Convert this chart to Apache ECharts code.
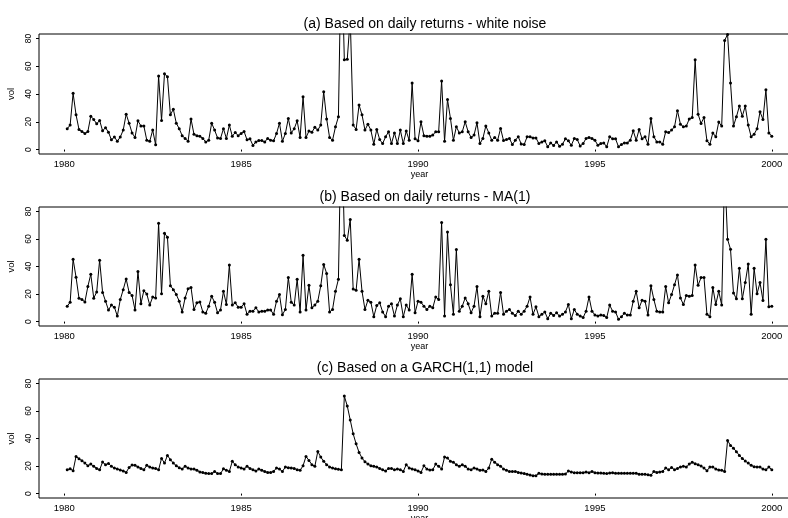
<!DOCTYPE html>
<html>
<head>
<meta charset="utf-8">
<script src="https://cdn.jsdelivr.net/npm/echarts@6/dist/echarts.min.js"></script>
<style>
  html, body { margin: 0; padding: 0; background: #fff; }
  #chart { width: 788px; height: 518px; }
</style>
</head>
<body>
<div id="chart"></div>
<script>
// monthly volatility, Jan 1980 .. Dec 1999 (240 months)
var startYear = 1980
var yearTicks = [1980, 1985, 1990, 1995, 2000]
var volTicks = [0, 20, 40, 60, 80]
var panelTitles = [
  '(a) Based on daily returns - white noise',
  '(b) Based on daily returns - MA(1)',
  '(c) Based on a GARCH(1,1) model'
]

// (a) white noise
var volA = [
  15, 17.6, 40.5, 25, 14.5, 13, 11.5, 13, 24, 21.7,
  18.5, 21, 13.5, 15.7, 12.5, 7, 9, 6, 9, 14,
  25.5, 19, 12, 8.7, 20.7, 17, 17, 6.7, 6, 14,
  3.4, 53, 21, 54.5, 52.5, 25, 29, 19, 15, 10,
  8, 6, 22, 11, 10, 9.6, 8, 5.5, 6.7, 19,
  14, 8.4, 8, 15, 8, 17.6, 9.6, 12.3, 10, 11.5,
  13, 7, 7.7, 3, 5.5, 6.5, 6.5, 5.5, 8, 6.7,
  6.3, 11.5, 19, 6, 11.5, 22.4, 12, 15, 20.7, 8.7,
  38, 8.7, 13.3, 12.5, 16, 14, 17.6, 41.7, 22, 8.7,
  6.7, 16.4, 23.6, 150, 64.6, 65, 95, 17.6, 14.5, 32,
  25, 14, 18.3, 14, 3.9, 14.5, 7.2, 4.3, 9.2, 12.8,
  4.3, 12, 4.3, 14, 4.3, 13.3, 6.7, 48, 7.7, 6.3,
  20, 10, 9.6, 9.6, 10.4, 12.8, 12.8, 49.4, 6, 36,
  22.4, 6.7, 16.4, 12, 12.8, 20, 12.8, 8.7, 10.4, 19.3,
  4.3, 8, 17, 12, 6.7, 8.7, 6.7, 15.2, 6.5, 7.2,
  8, 3.6, 6.7, 9.2, 4, 3.6, 9.2, 9.2, 8.4, 8.4,
  4.3, 5.5, 6.3, 2, 4.8, 3, 5.5, 2.4, 3.9, 7.7,
  6.3, 3.1, 8, 7.2, 2.6, 4.3, 8, 8.7, 8, 6.7,
  3.1, 4.3, 4.8, 2, 9.2, 7.7, 7.7, 2, 3.6, 4.8,
  4.8, 6.7, 13.5, 6.7, 14.5, 7.7, 9.2, 3.9, 22.4, 9.2,
  5.5, 5.5, 3.9, 12.8, 12.3, 14, 16.4, 28, 18.3, 16.4,
  16.9, 22, 23, 64.6, 25.5, 18.8, 23, 6.3, 3.9, 12,
  9.2, 19.8, 16.9, 78.6, 82.9, 48, 16.9, 23.6, 31.3, 24,
  31.3, 17.6, 9.2, 11, 15, 27.2, 21.7, 43, 12, 9.6
]

// (b) MA(1)
var volB = [
  11.2, 14, 45.3, 32.2, 17, 16, 14.3, 25.5, 34.4, 17,
  21.5, 44.6, 21.2, 14.8, 8.4, 12, 10.5, 4, 16, 23.2,
  31, 21.2, 19, 8.4, 36.3, 13, 22.4, 20, 12, 17.9,
  17.2, 71.4, 20.3, 64.2, 61.3, 26, 23.2, 19.6, 14.8, 7,
  17.2, 23.9, 24.8, 8.8, 13.6, 14.3, 7, 6, 11.2, 18.4,
  14, 6.4, 8.4, 22, 12.4, 41, 12, 13.6, 10.5, 10.5,
  12.9, 5.3, 7.6, 7.6, 10, 7, 7.6, 7.6, 8.4, 8.4,
  5.3, 14.8, 19.6, 5, 8.8, 32, 14, 12, 30.8, 7,
  48.2, 8.4, 26.3, 10, 12, 14.8, 26, 41.5, 35, 7,
  8.8, 22, 30.8, 150, 62.5, 59, 74.2, 23.6, 22.7, 45.3,
  22, 8.8, 15.5, 14, 3.6, 11.7, 13.6, 7, 3.6, 11.2,
  13, 4, 12, 16.5, 3.6, 12, 8.4, 34.4, 6.4, 14.8,
  14, 11.2, 8.8, 11.2, 10, 17.9, 16, 72, 4, 65,
  26.7, 5.3, 52.3, 7.6, 11.2, 17.2, 13, 6.4, 11.2, 25.5,
  3.6, 18.4, 13, 22, 4, 6, 6, 21.2, 5.3, 7.6,
  8.8, 6, 4.5, 7.6, 5.3, 7.6, 11.2, 17.9, 5.3, 10.7,
  3.6, 5.3, 7, 2.1, 6, 4.5, 6.4, 4, 5.3, 7,
  12.4, 2.1, 8.8, 5.3, 4, 2.9, 7.6, 17.9, 7.6, 4.8,
  4, 4.8, 4.5, 2.9, 12, 7.6, 7, 1.7, 3.6, 6,
  4.8, 4.8, 14.8, 22, 10, 15.5, 14.8, 4.8, 26, 16,
  7.6, 7, 7, 25.5, 13.6, 19.6, 26.7, 33.9, 17.2, 12.4,
  18.9, 18.4, 18.9, 41, 26.3, 32, 32, 5.3, 3.6, 24.8,
  12.4, 22, 12, 110, 59.7, 52.5, 20.8, 16.5, 38.7, 16.5,
  28.4, 41.8, 5.3, 38.7, 20.3, 28.4, 15.3, 59.7, 10.7, 11.2
]

// (c) GARCH(1,1)
var volC = [
  17.3, 18, 16.6, 27, 25.3, 23.9, 22.2, 20.2, 21.4, 19.8,
  18.3, 17.3, 22.9, 21, 21.9, 19.8, 18.6, 17.8, 17.1, 16.4,
  15.4, 19, 20.7, 20.5, 19.3, 18.3, 17.3, 20.5, 19.3, 18.6,
  18.3, 17.3, 25.5, 22.2, 27.7, 24.6, 22.2, 20.2, 18.8, 17.8,
  19.8, 18.6, 17.8, 17.8, 16.9, 15.7, 15.4, 14.7, 14.5, 14.5,
  16.1, 14.5, 14.5, 18, 16.9, 16.1, 23.4, 21, 19.3, 18.6,
  17.8, 19.8, 18.3, 17.3, 16.4, 17.8, 16.9, 16.1, 15.4, 15.4,
  16.1, 18.6, 17.8, 16.1, 19.3, 18.8, 18.6, 18.3, 17.3, 16.9,
  20.2, 27, 24.1, 21, 19.8, 30.6, 26.5, 23.4, 21, 19.3,
  18.6, 18, 17.6, 17.3, 70.8, 63.6, 53.5, 43.4, 36.1, 29.9,
  25.8, 23.1, 21.4, 20.2, 19.8, 19.3, 18.3, 17.3, 16.4, 18.3,
  18.3, 17.3, 17.8, 17.3, 16.1, 21, 18.6, 17.8, 17.3, 16.4,
  15.4, 20.2, 17.8, 17.1, 17.3, 21.4, 19.8, 17.8, 26.5, 25.8,
  23.4, 22.7, 21, 19.8, 21, 19.8, 17.8, 17.3, 18.6, 17.8,
  16.9, 17.1, 16.1, 18.6, 25, 22.7, 21, 19.8, 17.8, 16.9,
  16.1, 16.1, 16.1, 15.4, 14.9, 14.5, 14, 13.5, 13, 13,
  14.7, 14.2, 14, 14, 14, 14, 14, 14, 14, 14.2,
  16.4, 15.7, 15.2, 15.2, 15.2, 15.2, 15.7, 15.2, 16.1, 15.2,
  14.9, 14.9, 14.7, 14.5, 14.9, 15.2, 14.7, 14.7, 14.7, 14.7,
  14.7, 14.7, 14.7, 14.7, 14, 14, 14, 13.7, 13.3, 16.1,
  15.4, 15.7, 16.1, 18.6, 17.3, 19, 17.3, 18.3, 19.3, 19.8,
  19.3, 21.4, 22.7, 21.7, 21, 20, 18.6, 16.6, 19.3, 19.3,
  17.8, 17.1, 16.9, 16.1, 38.6, 34.9, 33, 30.4, 27.7, 25.5,
  23.6, 22.2, 20.5, 19.5, 19.3, 19.3, 17.8, 17.3, 19.3, 17.3
]

var chart = echarts.init(document.getElementById('chart'))

// month k (1..240) sits at startYear + k/12
function toPairs (vals) {
  var out = []
  for (var i = 0; i < vals.length; i++) {
    out.push([startYear + (i + 1) / 12, vals[i]])
  }
  return out
}

var font = 'Liberation Sans, Arial, Helvetica, sans-serif'
var panels = [
  {top: 34, height: 120, titleTop: 12, data: volA},
  {top: 207, height: 119, titleTop: 185, data: volB},
  {top: 379, height: 119, titleTop: 356, data: volC}
]

var grid = []
var xAxis = []
var yAxis = []
var series = []
var title = []
panels.forEach(function (p, i) {
  // plot box runs past the right edge of the picture, as in the original
  grid.push({
    left: 39,
    width: 761,
    top: p.top,
    height: p.height,
    outerBoundsMode: 'none',
    containLabel: false,
    show: true,
    borderColor: '#000',
    borderWidth: 1,
    backgroundColor: 'transparent'
  })
  title.push({
    text: panelTitles[i],
    left: 420,
    top: p.titleTop,
    textAlign: 'center',
    textStyle: {fontFamily: font, fontSize: 14, fontWeight: 'normal', color: '#000'}
  })
  xAxis.push({
    type: 'value',
    gridIndex: i,
    min: 1979.286,
    max: 2000.797,
    name: 'year',
    nameLocation: 'middle',
    nameGap: 15,
    nameTextStyle: {fontFamily: font, fontSize: 9, color: '#000'},
    axisLine: {show: false},
    splitLine: {show: false},
    axisTick: {show: true, length: 2, customValues: yearTicks, lineStyle: {color: '#000'}},
    axisLabel: {
      customValues: yearTicks,
      margin: 5,
      fontFamily: font,
      fontSize: 9.5,
      color: '#000',
      formatter: function (v) { return String(v) }
    }
  })
  yAxis.push({
    type: 'value',
    gridIndex: i,
    min: -3.2,
    max: 83.2,
    name: 'vol',
    nameLocation: 'middle',
    nameGap: 19,
    nameTextStyle: {fontFamily: font, fontSize: 9.5, color: '#000'},
    axisLine: {show: false},
    splitLine: {show: false},
    axisTick: {show: true, length: 3, customValues: volTicks, lineStyle: {color: '#000'}},
    axisLabel: {
      customValues: volTicks,
      rotate: 90,
      margin: 6,
      fontFamily: font,
      fontSize: 8.5,
      color: '#000'
    }
  })
  series.push({
    type: 'line',
    xAxisIndex: i,
    yAxisIndex: i,
    data: toPairs(p.data),
    symbol: 'circle',
    symbolSize: 3,
    clip: true,
    lineStyle: {color: '#000', width: 1},
    itemStyle: {color: '#000'}
  })
})

chart.setOption({
  animation: false,
  title: title,
  grid: grid,
  xAxis: xAxis,
  yAxis: yAxis,
  series: series
})
</script>
</body>
</html>
